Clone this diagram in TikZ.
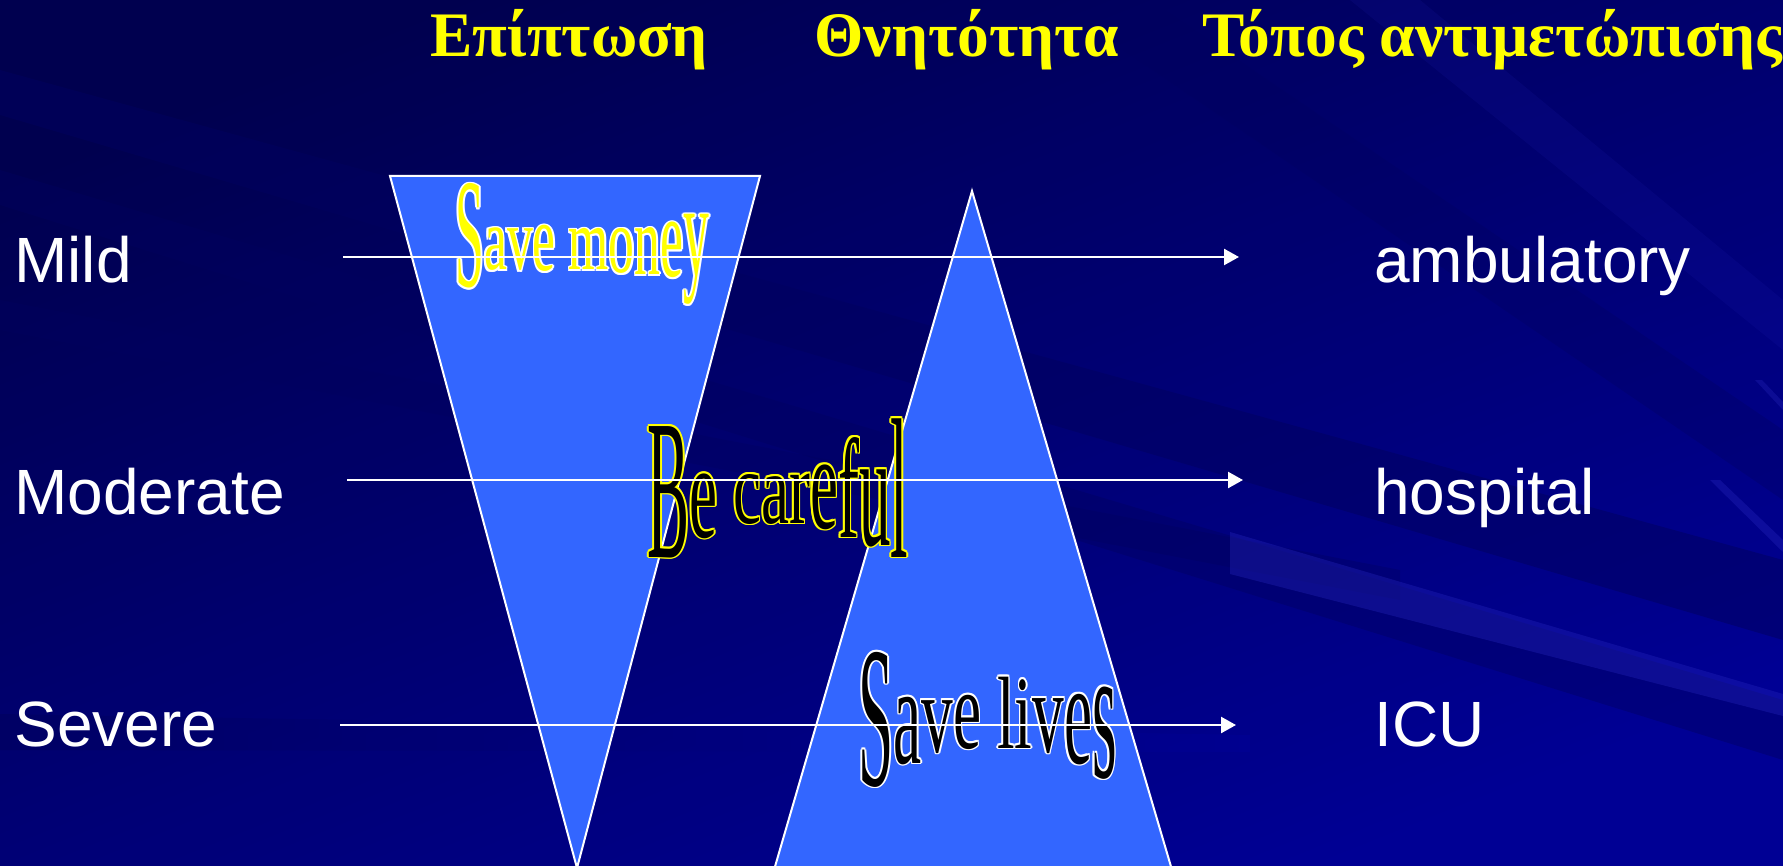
\documentclass[tikz,border=0pt]{standalone}
\usepackage{fontspec}
\usepackage{graphicx}
\setmainfont{Liberation Serif}
\newfontfamily\sansf{Liberation Sans}
\newfontfamily\wafont{Liberation Serif}
\usetikzlibrary{arrows.meta}

\definecolor{bgbase}{RGB}{0,0,148}
\definecolor{bgdeep}{RGB}{0,0,72}
\definecolor{bgdark}{RGB}{0,0,95}
\definecolor{bglight}{RGB}{40,40,190}
\definecolor{triblue}{RGB}{51,102,255}
\definecolor{heady}{RGB}{255,255,0}

\tikzset{
  lab/.style={font=\sansf\fontsize{32}{38}\selectfont, text=white, anchor=base west, inner sep=0pt},
  head/.style={font=\bfseries\fontsize{31.7}{38}\selectfont, text=heady, anchor=base west, inner sep=0pt},
  tri/.style={fill=triblue, draw=white, line width=1pt, line join=miter},
  flow/.style={draw=white, line width=1.2pt, -{Triangle[length=7.5pt,width=8pt]}},
  wa/.style={anchor=base west, inner sep=0pt},
}

% letter: h-scale, v-scale, raise (pt), glyph
\newcommand\wl[4]{\raisebox{#3pt}{\scalebox{#1}[#2]{#4}}}
\newcommand\moneytxt{\fontsize{44.5}{50}\wafont
  \wl{0.58}{1.75}{-8.5}{S}\wl{0.58}{1.0}{0}{a}\wl{0.58}{1.0}{0}{v}\wl{0.58}{1.08}{-0.5}{e}\hspace{6.5pt}%
  \wl{0.58}{0.98}{0}{m}\wl{0.58}{1.05}{-1.5}{o}\wl{0.58}{1.12}{-2.5}{n}\wl{0.58}{1.3}{-3.5}{e}\wl{0.58}{1.5}{-3}{y}}
\newcommand\caretxt{\fontsize{50}{56}\wafont
  \wl{0.63}{2.0}{-17}{B}\wl{0.63}{1.35}{-7}{e}\hspace{7.9pt}%
  \wl{0.63}{1.04}{0}{c}\wl{0.63}{1.0}{0}{a}\wl{0.63}{1.05}{0}{r}\wl{0.63}{1.35}{-2.5}{e}%
  \wl{0.63}{1.42}{-7}{f}\wl{0.63}{1.65}{-11}{u}\wl{0.63}{2.0}{-17}{l}}
\newcommand\livestxt{\fontsize{56.5}{62}\wafont
  \wl{0.56}{1.78}{-16.5}{S}\wl{0.56}{1.25}{-5.5}{a}\wl{0.56}{1.0}{0}{v}\wl{0.56}{1.0}{2}{e}\hspace{7.9pt}%
  \wl{0.56}{0.91}{2}{l}\wl{0.56}{0.92}{2}{i}\wl{0.56}{1.04}{0}{v}\wl{0.56}{1.3}{-5.5}{e}\wl{0.56}{1.7}{-12.5}{s}}

\begin{document}
\begin{tikzpicture}[x=0.5pt,y=-0.5pt]
\useasboundingbox (0,0) rectangle (1783,866);
\clip (0,0) rectangle (1783,866);

% ---------- background ----------
\fill[bgbase] (0,0) rectangle (1783,866);
\shade[top color=bgdeep, bottom color=bgbase, shading angle=22, opacity=0.9] (0,0) rectangle (1783,866);
\fill[bgdark, opacity=0.5] (0,70) -- (0,115) -- (1783,640) -- (1783,560) -- cycle;
\fill[bgdark, opacity=0.4] (0,170) -- (0,205) -- (1783,760) -- (1783,700) -- cycle;
\fill[bgdark, opacity=0.35] (0,300) -- (0,330) -- (1400,600) -- (1400,570) -- cycle;
\shade[left color=bgdark, right color=bgbase, opacity=0.6] (0,714) -- (0,750) -- (1250,752) -- (1250,735) -- cycle;
\fill[bgdark, opacity=0.3] (1050,0) -- (1150,0) -- (1783,430) -- (1783,500) -- cycle;
\fill[bglight, opacity=0.35] (1230,532) -- (1230,574) -- (1783,716) -- (1783,694) -- cycle;
\fill[bglight, opacity=0.35] (1710,480) -- (1720,480) -- (1783,540) -- (1783,552) -- cycle;
\fill[bglight, opacity=0.3] (1755,380) -- (1762,380) -- (1783,402) -- (1783,410) -- cycle;
\fill[bglight, opacity=0.12] (1350,0) -- (1420,0) -- (1783,300) -- (1783,350) -- cycle;

% ---------- triangles ----------
\coordinate (f1) at (390,176);
\coordinate (f2) at (760,176);
\coordinate (f3) at (577,868);
\coordinate (u1) at (972,191);
\coordinate (u2) at (1172,870);
\coordinate (u3) at (774,870);
\draw[tri] (f1) -- (f2) -- (f3) -- cycle;
\draw[tri] (u1) -- (u2) -- (u3) -- cycle;

% ---------- headings ----------
\node[head] (h1) at (430,57) {Επίπτωση};
\node[head] (h2) at (814,57) {Θνητότητα};
\node[head] (h3) at (1202,57) {Τόπος αντιμετώπισης};

% ---------- side labels ----------
\node[lab] (mild) at (14,283) {Mild};
\node[lab] (moderate) at (14,514) {Moderate};
\node[lab] (severe) at (14,746) {Severe};
\node[lab] (amb) at (1374,283) {ambulatory};
\node[lab] (hosp) at (1374,514) {hospital};
\node[lab] (icu) at (1374,746) {ICU};

% ---------- word art ----------
\foreach \dx/\dy in {-1.6/0,1.6/0,0/-1.6,0/1.6,-1.15/-1.15,1.15/1.15,-1.15/1.15,1.15/-1.15}{
  \node[wa, text=white, shift={(\dx,\dy)}] at (455,270) {\moneytxt};
  \node[wa, text=heady, shift={(\dx,\dy)}] at (647,523) {\caretxt};
  \node[wa, text=white, shift={(\dx,\dy)}] at (858,752) {\livestxt};
}
\node[wa, text=heady] (wmoney) at (455,270) {\moneytxt};
\node[wa, text=black] (wcare) at (647,523) {\caretxt};
\node[wa, text=black] (wlives) at (858,752) {\livestxt};

% ---------- arrows ----------
\coordinate (a1s) at (343,257);
\coordinate (a1e) at (1239,257);
\coordinate (a2s) at (347,480);
\coordinate (a2e) at (1243,480);
\coordinate (a3s) at (340,725);
\coordinate (a3e) at (1236,725);
\draw[flow] (a1s) -- (a1e);
\draw[flow] (a2s) -- (a2e);
\draw[flow] (a3s) -- (a3e);
\end{tikzpicture}
\end{document}
